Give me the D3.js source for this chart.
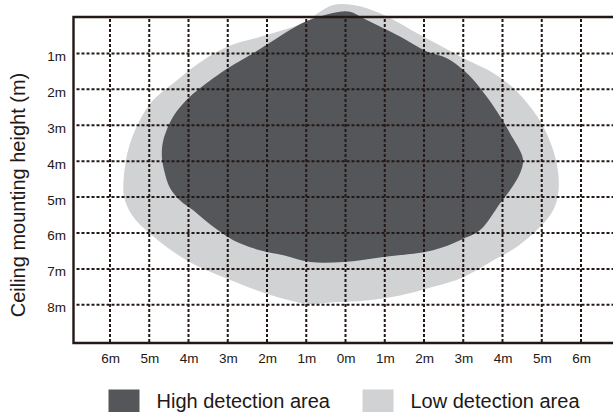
<!DOCTYPE html>
<html>
<head>
<meta charset="utf-8">
<script src="https://cdn.jsdelivr.net/npm/d3@7"></script>
<style>
  body { margin: 0; background: #fff; }
  text { font-family: "Liberation Sans", Arial, sans-serif; fill: #231815; }
</style>
</head>
<body>
<div id="chart"></div>
<script>
// Tick values and labels
var xTicks = [-6, -5, -4, -3, -2, -1, 0, 1, 2, 3, 4, 5, 6];
var xTickLabels = ["6m", "5m", "4m", "3m", "2m", "1m", "0m", "1m", "2m", "3m", "4m", "5m", "6m"];
var yTicks = [1, 2, 3, 4, 5, 6, 7, 8];
var yTickLabels = ["1m", "2m", "3m", "4m", "5m", "6m", "7m", "8m"];

// Outline of the high detection area (x in m from centre, y in m down)
var highArea = [
  [-0.14, -0.16], [0.11, -0.16], [0.54, 0.07], [1.39, 0.53], [2.07, 0.95],
  [2.57, 1.13], [3.0, 1.46], [3.26, 1.74], [3.6, 2.21], [3.94, 2.76],
  [4.19, 3.22], [4.52, 3.93], [4.45, 4.33], [4.19, 4.81], [3.94, 5.17],
  [3.43, 5.92], [2.92, 6.2], [2.23, 6.48], [0.96, 6.67], [-0.06, 6.81],
  [-0.9, 6.81], [-1.58, 6.62], [-2.18, 6.48], [-2.86, 6.2], [-3.37, 5.83],
  [-3.88, 5.37], [-4.22, 5.09], [-4.47, 4.75], [-4.64, 4.16], [-4.68, 3.83],
  [-4.64, 3.41], [-4.39, 2.76], [-4.05, 2.3], [-3.71, 1.97], [-3.0, 1.41],
  [-2.36, 1.0], [-2.01, 0.76], [-1.01, 0.11]
];

// Outline of the low detection area
var lowArea = [
  [-0.32, -0.35], [0.2, -0.35], [0.88, -0.12], [1.98, 0.53], [3.09, 1.18],
  [3.77, 1.55], [4.28, 1.97], [4.7, 2.48], [5.04, 3.04], [5.29, 3.69],
  [5.42, 4.34], [5.42, 4.9], [5.29, 5.37], [4.96, 5.83], [4.36, 6.39],
  [3.77, 6.76], [3.0, 7.23], [2.24, 7.5], [1.39, 7.74], [0.54, 7.88],
  [-0.31, 7.93], [-0.95, 7.97], [-1.75, 7.78], [-3.03, 7.27], [-4.05, 6.76],
  [-4.98, 6.02], [-5.41, 5.55], [-5.62, 5.09], [-5.66, 4.81], [-5.62, 4.16],
  [-5.49, 3.51], [-5.24, 2.86], [-4.9, 2.3], [-4.39, 1.83], [-3.71, 1.25],
  [-3.0, 0.81], [-2.01, 0.49], [-1.01, 0.12], [-0.65, -0.16]
];

var legendLabels = ["High detection area", "Low detection area"];

var svgWidth = 613;
var svgHeight = 412;
var ink = "#231815";
var darkColor = "#55565a";
var lightColor = "#d1d2d4";

// plot frame
var frameLeft = 73.5, frameRight = 613, frameTop = 17, frameBottom = 343;

var svg = d3.select("#chart")
  .append("svg")
  .attr("width", svgWidth)
  .attr("height", svgHeight);

var xScale = d3.scaleLinear()
  .domain([-6, 6])
  .range([110, 581]);

var yScale = d3.scaleLinear()
  .domain([1, 8])
  .range([53.4, 304.8]);

var area = d3.line()
  .x(d => xScale(d[0]))
  .y(d => yScale(d[1]))
  .curve(d3.curveCatmullRomClosed.alpha(0.5));

svg.append("path")
  .attr("d", area(lowArea))
  .attr("fill", lightColor);

svg.append("path")
  .attr("d", area(highArea))
  .attr("fill", darkColor);

// dotted grid
svg.append("g")
  .selectAll("line")
  .data(xTicks)
  .join("line")
  .attr("x1", d => xScale(d))
  .attr("x2", d => xScale(d))
  .attr("y1", frameTop + 2)
  .attr("y2", frameBottom)
  .attr("stroke", ink)
  .attr("stroke-width", 2)
  .attr("stroke-dasharray", "3,2");

svg.append("g")
  .selectAll("line")
  .data(yTicks)
  .join("line")
  .attr("x1", frameLeft + 3)
  .attr("x2", frameRight)
  .attr("y1", d => yScale(d))
  .attr("y2", d => yScale(d))
  .attr("stroke", ink)
  .attr("stroke-width", 2)
  .attr("stroke-dasharray", "3,2");

// frame lines
svg.append("path")
  .attr("d", `M${frameRight},${frameTop}H${frameLeft}V${frameBottom}H${frameRight}`)
  .attr("fill", "none")
  .attr("stroke", ink)
  .attr("stroke-width", 2.4);

// bottom tick labels
var bottomAxis = d3.axisBottom(xScale)
  .tickValues(xTicks)
  .tickSize(0)
  .tickPadding(0)
  .tickFormat((d, i) => xTickLabels[i]);

var xAxisG = svg.append("g")
  .attr("transform", `translate(0, ${frameBottom})`)
  .call(bottomAxis);
xAxisG.select(".domain").remove();
xAxisG.selectAll("text")
  .attr("dy", null)
  .attr("y", 19.5)
  .style("font-size", "13.5px")
  .style("font-family", '"Liberation Sans", Arial, sans-serif')
  .attr("fill", ink);

// left tick labels
var leftAxis = d3.axisLeft(yScale)
  .tickValues(yTicks)
  .tickSize(0)
  .tickPadding(0)
  .tickFormat((d, i) => yTickLabels[i]);

var yAxisG = svg.append("g")
  .attr("transform", "translate(66, 0)")
  .call(leftAxis);
yAxisG.select(".domain").remove();
yAxisG.selectAll("text")
  .attr("x", 0)
  .attr("dy", null)
  .attr("y", 7)
  .style("font-size", "13.5px")
  .style("font-family", '"Liberation Sans", Arial, sans-serif')
  .attr("fill", ink);

// axis title
svg.append("text")
  .attr("transform", "translate(25, 195) rotate(-90)")
  .attr("text-anchor", "middle")
  .style("font-size", "20px")
  .text("Ceiling mounting height (m)");

// legend
var legend = svg.append("g");
var legendX = [108.5, 362.5];
var legendColors = [darkColor, lightColor];

legend.selectAll("rect")
  .data(legendLabels)
  .join("rect")
  .attr("x", (d, i) => legendX[i])
  .attr("y", 389.5)
  .attr("width", 31)
  .attr("height", 30)
  .attr("fill", (d, i) => legendColors[i]);

legend.selectAll("text")
  .data(legendLabels)
  .join("text")
  .attr("x", (d, i) => legendX[i] + 48)
  .attr("y", 407.5)
  .style("font-size", "20px")
  .text(d => d);
</script>
</body>
</html>
